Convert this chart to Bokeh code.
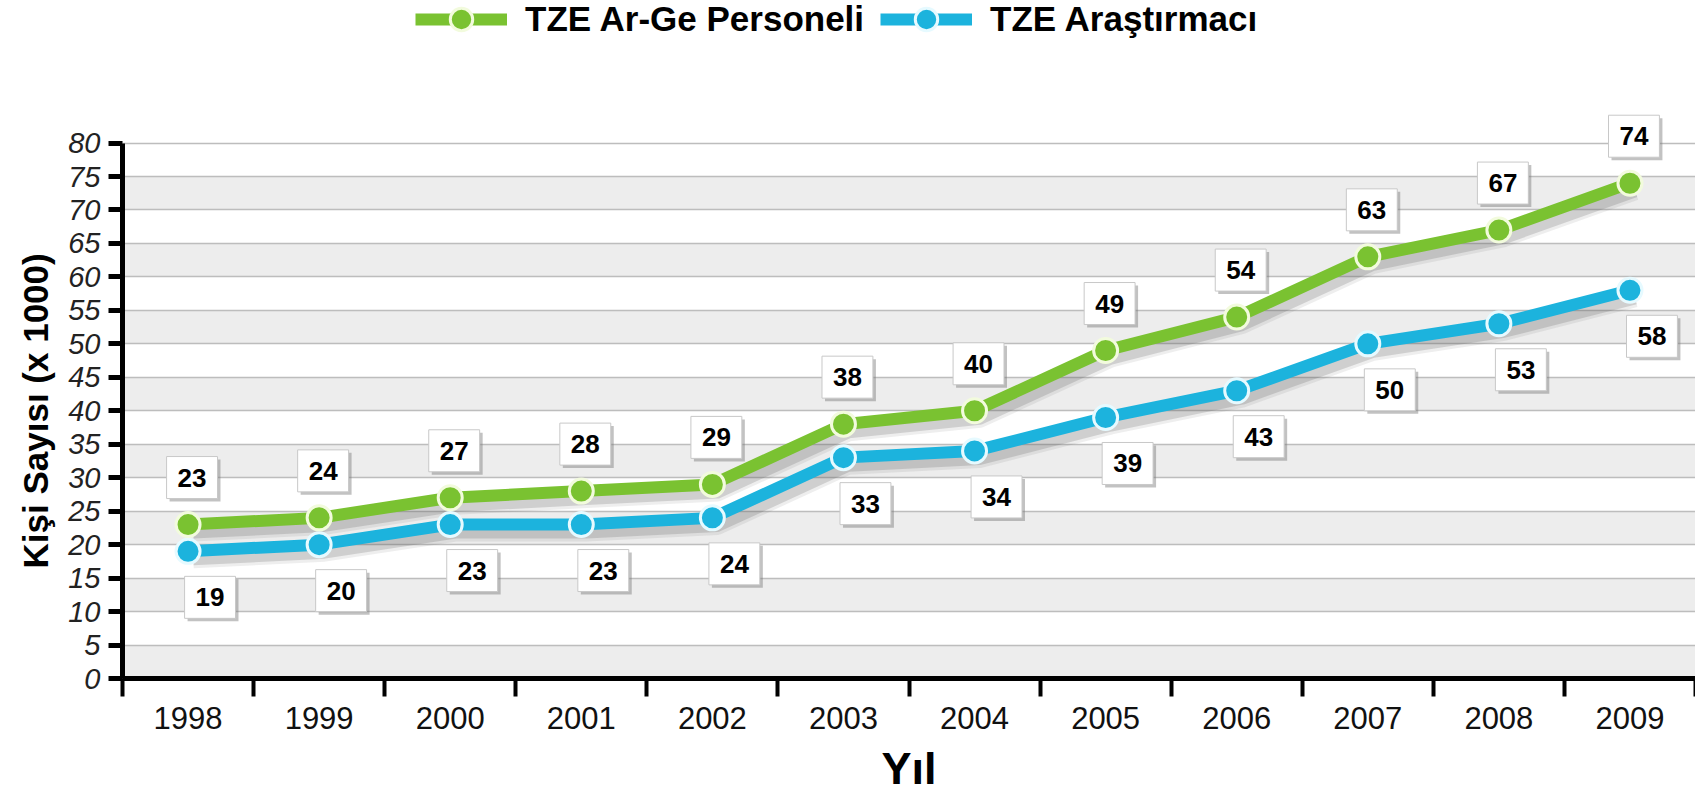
from bokeh.plotting import figure
from bokeh.models import (Range1d, FixedTicker, ColumnDataSource, Legend, LegendItem,
                          BoxAnnotation, Title)
from bokeh.transform import dodge
from bokeh.core.properties import value
from bokeh.embed import file_html
from bokeh.resources import INLINE

# ---------------- data ----------------
years = [1998, 1999, 2000, 2001, 2002, 2003, 2004, 2005, 2006, 2007, 2008, 2009]
personel = [23, 24, 27, 28, 29, 38, 40, 49, 54, 63, 67, 74]
arastirmaci = [19, 20, 23, 23, 24, 33, 34, 39, 43, 50, 53, 58]
y_ticks = [0, 5, 10, 15, 20, 25, 30, 35, 40, 45, 50, 55, 60, 65, 70, 75, 80]
series_names = ["TZE Ar-Ge Personeli", "TZE Araştırmacı"]
y_title = "Kişi Sayısı (x 1000)"
x_title = "Yıl"

GREEN = "#7AC231"
BLUE = "#1CB3DD"
FONT = "Liberation Sans"

idx = list(range(len(years)))
src = ColumnDataSource(dict(
    x=idx,
    p=personel,
    a=arastirmaci,
    pt=[str(v) for v in personel],
    at=[str(v) for v in arastirmaci],
))

p = figure(width=1695, height=802, output_backend="svg", toolbar_location=None,
           x_range=Range1d(-0.5, len(years) - 0.5), y_range=Range1d(0, 101.3),
           min_border_left=122, min_border_right=0, min_border_top=0,
           min_border_bottom=121)
p.outline_line_color = None
p.background_fill_color = "white"

# alternating bands
for i in range(0, len(y_ticks) - 1, 2):
    p.add_layout(BoxAnnotation(bottom=y_ticks[i], top=y_ticks[i + 1],
                               fill_color="#EDEDED", fill_alpha=1, line_alpha=0,
                               level="image"))

# ---------- axes ----------
p.xgrid.visible = False
p.ygrid.ticker = FixedTicker(ticks=y_ticks)
p.ygrid.grid_line_color = "#BDBDBD"
p.ygrid.grid_line_width = 1.6

ya = p.yaxis[0]
ya.ticker = FixedTicker(ticks=y_ticks)
ya.bounds = (y_ticks[0], y_ticks[-1])
ya.axis_line_width = 5
ya.axis_line_color = "black"
ya.major_tick_line_width = 5
ya.major_tick_out = 14
ya.major_tick_in = 0
ya.minor_tick_line_color = None
ya.major_label_standoff = 8
ya.major_label_text_font = FONT
ya.major_label_text_font_style = "italic"
ya.major_label_text_font_size = "29px"
ya.major_label_text_color = "#222222"

xa = p.xaxis[0]
xa.ticker = FixedTicker(ticks=idx, minor_ticks=[i - 0.5 for i in range(len(years) + 1)])
xa.major_label_overrides = {i: str(y) for i, y in zip(idx, years)}
xa.axis_line_width = 5
xa.axis_line_color = "black"
xa.major_tick_out = 0
xa.major_tick_in = 0
xa.minor_tick_out = 18
xa.minor_tick_in = 0
xa.minor_tick_line_width = 4
xa.minor_tick_line_color = "black"
xa.major_label_standoff = 10
xa.major_label_text_font = FONT
xa.major_label_text_font_size = "31px"
xa.major_label_text_color = "#111111"

# axis titles as side-panel titles (positioned like the reference)
p.add_layout(Title(text=y_title, align="left", offset=110, standoff=22,
                   text_font=FONT, text_font_style="bold", text_font_size="35px",
                   text_color="black"), "left")
p.add_layout(Title(text=x_title, align="center", standoff=18,
                   text_font=FONT, text_font_style="bold", text_font_size="45px",
                   text_color="black"), "below")

# ---------- shadows ----------
for col in ["p", "a"]:
    for w, a in [(18, 0.10), (12, 0.20)]:
        p.line(x=dodge("x", 0.04, range=p.x_range), y=dodge(col, -1.2, range=p.y_range),
               source=src, line_width=w, line_color="#555555", line_alpha=a,
               line_join="round")

# ---------- series ----------
lb = p.line("x", "a", source=src, line_width=12, line_color=BLUE, line_join="round")
sb = p.scatter("x", "a", source=src, size=24, fill_color=BLUE, line_color="#E6FAFF",
               line_width=3)
lg = p.line("x", "p", source=src, line_width=12, line_color=GREEN, line_join="round")
sg = p.scatter("x", "p", source=src, size=24, fill_color=GREEN, line_color="#F2FBDD",
               line_width=3)

# ---------- value labels ----------
pad = dict(left=11, right=11, top=12, bottom=12)


def labels(ycol, tcol, dx, dy):
    p.text("x", ycol, text=tcol, source=src, x_offset=dx + 3, y_offset=dy + 3,
           text_align="center", text_baseline="middle",
           text_font=value(FONT), text_font_style="bold", text_font_size="26px",
           text_alpha=0, background_fill_color="#777777", background_fill_alpha=0.45,
           padding=pad)
    p.text("x", ycol, text=tcol, source=src, x_offset=dx, y_offset=dy,
           text_align="center", text_baseline="middle",
           text_font=value(FONT), text_font_style="bold", text_font_size="26px",
           text_color="black", background_fill_color="white",
           border_line_color="#C8C8C8", border_line_width=1, padding=pad)


labels("p", "pt", 4, -47)
labels("a", "at", 22, 46)

# ---------- legend ----------
legend = Legend(items=[LegendItem(label=series_names[0], renderers=[lg, sg]),
                       LegendItem(label=series_names[1], renderers=[lb, sb])],
                location=(293, 631), orientation="horizontal",
                background_fill_alpha=0, border_line_color=None,
                padding=0, margin=0, spacing=16,
                glyph_width=92, glyph_height=56, label_standoff=18,
                label_text_font=FONT, label_text_font_style="bold",
                label_text_font_size="35px", label_text_color="black")
p.add_layout(legend)

open("out.html", "w").write(file_html(p, INLINE))
